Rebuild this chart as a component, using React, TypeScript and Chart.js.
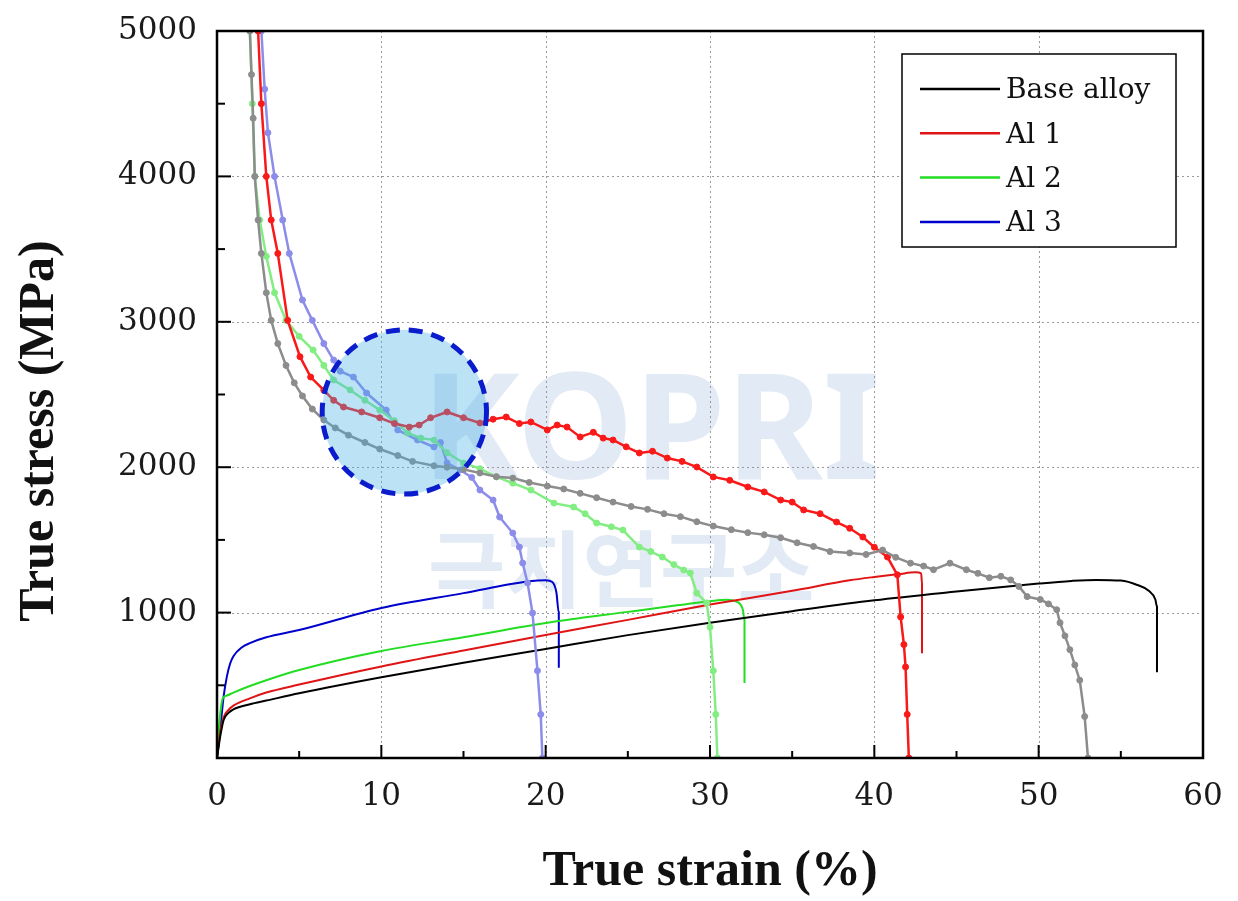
import React, { useEffect, useRef } from "react";
import { Chart, registerables } from "chart.js";
Chart.register(...registerables);

// ---- Stress-strain curves (true strain %, true stress MPa) ----
const baseStrain = [0, 0.2, 0.4, 0.7, 1, 2, 3, 5, 10, 15, 20, 25, 30, 35, 40, 45, 50, 52, 53.5, 55, 56, 56.7, 57.1, 57.2, 57.2];
const baseStress = [0, 150, 260, 310, 335, 370, 395, 445, 555, 655, 750, 845, 930, 1010, 1085, 1145, 1200, 1218, 1225, 1220, 1190, 1150, 1090, 1040, 590];

const al1Strain = [0, 0.2, 0.4, 0.7, 1, 2, 3, 5, 10, 15, 20, 25, 30, 35, 38.5, 40, 41.5, 42.5, 42.85, 42.9, 42.9];
const al1Stress = [0, 180, 280, 330, 360, 410, 450, 505, 630, 740, 846, 950, 1055, 1150, 1222, 1245, 1265, 1277, 1270, 1200, 720];

const al2Strain = [0, 0.15, 0.35, 0.6, 1, 2, 3, 5, 10, 15, 20, 25, 28, 30, 31, 31.6, 32, 32.1, 32.1];
const al2Stress = [0, 250, 410, 430, 450, 495, 535, 605, 736, 830, 928, 1005, 1050, 1078, 1088, 1075, 1020, 950, 515];

const al3Strain = [0, 0.2, 0.4, 0.6, 0.8, 1, 1.5, 2, 3, 5, 10, 15, 19, 20, 20.4, 20.65, 20.8, 20.8];
const al3Stress = [0, 200, 420, 560, 650, 700, 760, 790, 830, 880, 1032, 1134, 1215, 1222, 1210, 1140, 1000, 620];

// ---- Marker curves (strain %, MPa) ----
const baseMarked: [number, number][] = [
  [1.85, 5300], [2.0, 5000], [2.1, 4700], [2.2, 4400], [2.3, 4000], [2.5, 3700], [2.7, 3470], [3.0, 3200], [3.3, 3010],
  [3.7, 2850], [4.2, 2700], [4.7, 2580], [5.2, 2490], [5.8, 2400], [6.5, 2325], [7.2, 2270], [8.0, 2220], [9.0, 2170],
  [9.9, 2125], [11.0, 2080], [11.9, 2040], [13.2, 2010], [14.0, 2000], [15.0, 1985], [16.0, 1960], [17.0, 1935],
  [18.0, 1925], [19.0, 1895], [20.1, 1870], [21.1, 1850], [22.1, 1820], [23.1, 1790], [24.1, 1760], [25.2, 1730],
  [26.2, 1710], [27.2, 1680], [28.2, 1660], [29.2, 1625], [30.2, 1595], [31.3, 1570], [32.3, 1550], [33.3, 1535],
  [34.3, 1515], [35.3, 1480], [36.3, 1455], [37.3, 1420], [38.5, 1410], [39.5, 1400], [40.5, 1430], [41.3, 1380],
  [42.2, 1340], [43.0, 1320], [43.6, 1295], [44.6, 1340], [45.6, 1295], [46.3, 1270], [47.0, 1240], [47.7, 1250],
  [48.3, 1225], [48.8, 1180], [49.3, 1110], [50.1, 1090], [50.6, 1060], [51.1, 1020], [51.3, 930], [51.6, 840],
  [51.9, 745], [52.2, 640], [52.5, 535], [52.8, 285], [53.0, 0]
];
const al1Marked: [number, number][] = [
  [2.35, 5300], [2.5, 5000], [2.7, 4500], [3.0, 4000], [3.3, 3700], [3.7, 3470], [4.3, 3010], [5.05, 2760], [5.7, 2620],
  [6.5, 2530], [7.1, 2460], [7.7, 2414], [8.8, 2380], [9.9, 2340], [10.8, 2300], [11.7, 2276], [12.3, 2290], [13.0, 2340],
  [14.0, 2380], [15.0, 2340], [16.0, 2304], [16.8, 2330], [17.6, 2345], [18.4, 2300], [19.1, 2311], [20.1, 2256],
  [20.7, 2290], [21.3, 2276], [22.1, 2208], [22.9, 2240], [23.5, 2200], [24.1, 2187], [24.9, 2140], [25.7, 2098],
  [26.5, 2110], [27.4, 2063], [28.3, 2040], [29.2, 2001], [30.2, 1933], [31.2, 1910], [32.3, 1864], [33.3, 1830],
  [34.3, 1774], [35.0, 1760], [35.7, 1706], [36.7, 1680], [37.7, 1623], [38.5, 1580], [39.3, 1520], [40.0, 1450],
  [40.8, 1382], [41.4, 1260], [41.6, 970], [41.8, 780], [41.9, 626], [42.0, 300], [42.1, 0]
];
const al2Marked: [number, number][] = [
  [1.9, 5300], [2.0, 5000], [2.15, 4500], [2.3, 4000], [2.6, 3700], [3.0, 3450], [3.5, 3200], [4.2, 3010], [5.0, 2900],
  [5.85, 2806], [6.5, 2700], [7.1, 2600], [8.1, 2531], [9.0, 2460], [9.9, 2393], [10.8, 2320], [11.6, 2235], [12.4, 2200],
  [13.2, 2187], [14.0, 2100], [15.0, 2029], [16.0, 1990], [17.0, 1933], [18.0, 1890], [19.1, 1843], [20.5, 1753],
  [21.7, 1726], [22.4, 1680], [23.1, 1616], [24.0, 1590], [24.7, 1568], [25.7, 1451], [26.4, 1420], [27.1, 1382],
  [27.8, 1330], [28.4, 1293], [28.8, 1272], [29.2, 1134], [29.8, 1066], [30.0, 900], [30.2, 600], [30.35, 300], [30.45, 0]
];
const al3Marked: [number, number][] = [
  [2.6, 5300], [2.7, 5000], [2.9, 4600], [3.1, 4300], [3.5, 4000], [4.0, 3700], [4.4, 3470], [5.2, 3150], [5.8, 3010],
  [6.5, 2850], [7.1, 2737], [7.5, 2660], [8.3, 2620], [9.1, 2510], [10.3, 2393], [11.0, 2256], [12.2, 2187], [13.2, 2139],
  [13.6, 2170], [14.0, 2029], [14.8, 1981], [15.5, 1930], [16.0, 1843], [16.8, 1774], [17.2, 1657], [18.0, 1547],
  [18.4, 1451], [18.6, 1341], [18.9, 1204], [19.2, 997], [19.5, 600], [19.7, 300], [19.8, 0]
];

// ---- Labels / ticks ----
const legendLabels = ["Base alloy", "Al 1", "Al 2", "Al 3"];
const lineColors = ["#000000", "#e01414", "#22dd22", "#0000cc"];
const markerColors = ["rgb(140,140,140)", "rgb(250,25,25)", "rgb(130,238,130)", "rgb(140,140,235)"];
const xTitle = "True strain (%)";
const yTitle = "True stress (MPa)";
const xMajor = [0, 10, 20, 30, 40, 50, 60];
const xMinor = [5, 15, 25, 35, 45, 55];
const yMajor = [1000, 2000, 3000, 4000];
const yMinor = [500, 1500, 2500, 3500, 4500];
const highlight = { strain: 11.4, stress: 2380, radiusStrain: 5.0 };

const toXY = (xs: number[], ys: number[]) => xs.map((x, i) => ({ x, y: ys[i] }));
const pairs = (p: [number, number][]) => p.map(([x, y]) => ({ x, y }));

const serif = "'DejaVu Serif', serif";
const boldSerif = "'Liberation Serif', 'Times New Roman', serif";

const decorPlugin = {
  id: "decor",
  beforeDatasetsDraw(chart: any) {
    const { ctx, chartArea: a, scales } = chart;
    const x = scales.x, y = scales.y;
    ctx.save();
    // watermark
    ctx.fillStyle = "rgba(160,185,222,0.3)";
    ctx.textAlign = "center";
    ctx.textBaseline = "alphabetic";
    ctx.font = "bold 148px 'Noto Sans', sans-serif";
    ctx.fillText("KOPRI", x.getPixelForValue(26.4), y.getPixelForValue(1920));
    ctx.font = "bold 84px 'Noto Sans CJK KR', sans-serif";
    ctx.fillText("극지연구소", x.getPixelForValue(24.6), y.getPixelForValue(1080));
    // dotted grid
    ctx.strokeStyle = "#9a9a9a";
    ctx.lineWidth = 1;
    ctx.setLineDash([2, 3]);
    for (const v of xMajor) {
      if (v === 0 || v === 60) continue;
      const px = Math.round(x.getPixelForValue(v)) + 0.5;
      ctx.beginPath(); ctx.moveTo(px, a.top); ctx.lineTo(px, a.bottom); ctx.stroke();
    }
    for (const v of yMajor) {
      const py = Math.round(y.getPixelForValue(v)) + 0.5;
      ctx.beginPath(); ctx.moveTo(a.left, py); ctx.lineTo(a.right, py); ctx.stroke();
    }
    ctx.restore();
  },
  afterDatasetsDraw(chart: any) {
    const { ctx, chartArea: a, scales } = chart;
    const x = scales.x, y = scales.y;
    ctx.save();
    // highlight circle
    const cx = x.getPixelForValue(highlight.strain);
    const cy = y.getPixelForValue(highlight.stress);
    const r = x.getPixelForValue(highlight.strain + highlight.radiusStrain) - cx;
    ctx.beginPath();
    ctx.arc(cx, cy, r, 0, Math.PI * 2);
    ctx.fillStyle = "rgba(70,175,230,0.36)";
    ctx.fill();
    ctx.setLineDash([14, 9]);
    ctx.lineWidth = 5;
    ctx.strokeStyle = "#0b1ccc";
    ctx.stroke();
    ctx.setLineDash([]);
    // frame
    ctx.strokeStyle = "#000";
    ctx.lineWidth = 2.5;
    ctx.strokeRect(a.left, a.top, a.right - a.left, a.bottom - a.top);
    // inward ticks
    ctx.lineWidth = 2;
    const tick = (px: number, py: number, dx: number, dy: number) => {
      ctx.beginPath(); ctx.moveTo(px, py); ctx.lineTo(px + dx, py + dy); ctx.stroke();
    };
    for (const v of xMajor) tick(x.getPixelForValue(v), a.bottom, 0, -13);
    for (const v of xMinor) tick(x.getPixelForValue(v), a.bottom, 0, -7);
    for (const v of yMajor) tick(a.left, y.getPixelForValue(v), 14, 0);
    for (const v of yMinor) tick(a.left, y.getPixelForValue(v), 8, 0);
    ctx.restore();
  },
  afterDraw(chart: any) {
    const { ctx, chartArea: a } = chart;
    ctx.save();
    // legend
    const bx = a.right - 301, by = a.top + 23, bw = 274, bh = 193;
    ctx.fillStyle = "#fff";
    ctx.fillRect(bx, by, bw, bh);
    ctx.strokeStyle = "#000";
    ctx.lineWidth = 1.5;
    ctx.strokeRect(bx, by, bw, bh);
    ctx.font = `28px ${serif}`;
    ctx.textAlign = "left";
    ctx.textBaseline = "middle";
    legendLabels.forEach((lab, i) => {
      const ly = by + 35 + i * 44.3;
      ctx.strokeStyle = lineColors[i];
      ctx.lineWidth = 2.5;
      ctx.beginPath(); ctx.moveTo(bx + 18, ly); ctx.lineTo(bx + 98, ly); ctx.stroke();
      ctx.fillStyle = "#111";
      ctx.fillText(lab, bx + 104, ly + 2);
    });
    // axis titles
    ctx.fillStyle = "#111";
    ctx.font = `bold 50px ${boldSerif}`;
    ctx.textAlign = "center";
    ctx.textBaseline = "alphabetic";
    ctx.fillText(xTitle, (a.left + a.right) / 2, 885);
    ctx.translate(53, 431);
    ctx.rotate(-Math.PI / 2);
    ctx.fillText(yTitle, 0, 0);
    ctx.restore();
  }
};

const zeroPad = (s: any) => {
  s.paddingTop = 0;
  s.paddingBottom = 0;
  s.paddingLeft = 0;
  s.paddingRight = 0;
};

export default function App() {
  const ref = useRef<HTMLCanvasElement>(null);
  useEffect(() => {
    document.body.style.margin = "0";
    const markerSet = (label: string, data: any, i: number) => ({
      label,
      data,
      borderColor: markerColors[i],
      backgroundColor: markerColors[i],
      borderWidth: 2.5,
      pointRadius: 3,
      pointBorderWidth: 1,
      pointBorderColor: markerColors[i],
      pointBackgroundColor: markerColors[i],
      tension: 0,
      order: 0,
      clip: 0,
    });
    const lineSet = (label: string, data: any, i: number) => ({
      label,
      data,
      borderColor: lineColors[i],
      backgroundColor: lineColors[i],
      borderWidth: 2,
      pointRadius: 0,
      tension: 0.3,
      cubicInterpolationMode: "monotone",
      order: 1,
      clip: 0,
    });
    const chart = new Chart(ref.current as HTMLCanvasElement, {
      type: "line",
      data: {
        datasets: [
          lineSet(legendLabels[0], toXY(baseStrain, baseStress), 0),
          lineSet(legendLabels[1], toXY(al1Strain, al1Stress), 1),
          lineSet(legendLabels[2], toXY(al2Strain, al2Stress), 2),
          lineSet(legendLabels[3], toXY(al3Strain, al3Stress), 3),
          markerSet(legendLabels[0] + " (marked)", pairs(baseMarked), 0),
          markerSet(legendLabels[1] + " (marked)", pairs(al1Marked), 1),
          markerSet(legendLabels[2] + " (marked)", pairs(al2Marked), 2),
          markerSet(legendLabels[3] + " (marked)", pairs(al3Marked), 3),
        ] as any,
      },
      options: {
        responsive: false,
        animation: false,
        devicePixelRatio: 1,
        layout: { padding: { top: 31, right: 35, left: 0, bottom: 0 } },
        plugins: { legend: { display: false }, tooltip: { enabled: false } },
        scales: {
          x: {
            type: "linear",
            min: 0,
            max: 60,
            ticks: { stepSize: 10, padding: 20, maxRotation: 0, color: "#1a1a1a", font: { family: serif, size: 31 } },
            grid: { display: false, drawTicks: false },
            border: { display: false },
            afterFit: (s: any) => { s.height = 143; zeroPad(s); },
          },
          y: {
            type: "linear",
            min: 0,
            max: 5000,
            ticks: {
              stepSize: 1000,
              padding: 20,
              color: "#1a1a1a",
              font: { family: serif, size: 31 },
              callback: (v: any) => (v === 0 ? "" : String(v)),
            },
            grid: { display: false, drawTicks: false },
            border: { display: false },
            afterFit: (s: any) => { s.width = 217; zeroPad(s); },
          },
        },
      } as any,
      plugins: [decorPlugin],
    });
    return () => chart.destroy();
  }, []);
  return (
    <div style={{ position: "absolute", left: 0, top: 0, width: 1238, height: 901, background: "#fff" }}>
      <canvas ref={ref} width={1238} height={901} style={{ display: "block", width: 1238, height: 901 }} />
    </div>
  );
}
